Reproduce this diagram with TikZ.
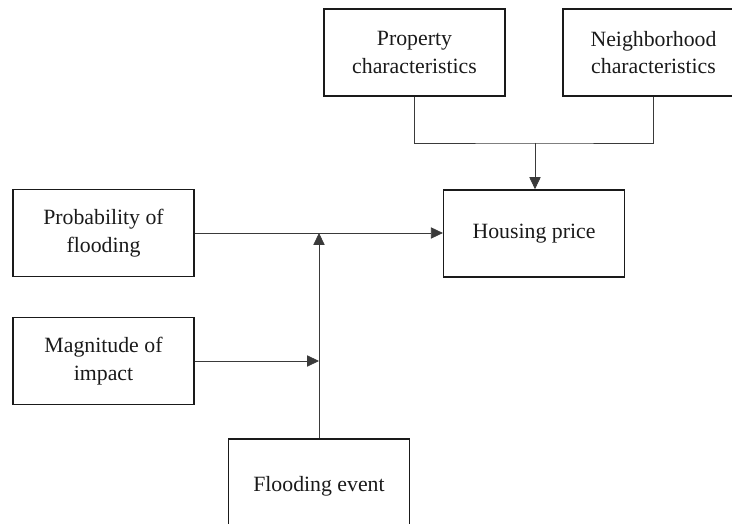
\documentclass[tikz,border=0pt]{standalone}
\usepackage{fontspec}
\setmainfont{Liberation Serif}
\usepackage{xcolor}
\definecolor{fink}{HTML}{1A1A1A}
\definecolor{fline}{HTML}{3A3A3A}
\usepackage{tikz}
\usetikzlibrary{arrows.meta,positioning,calc}
\begin{document}
\begin{tikzpicture}[x=0.025cm,y=-0.025cm,
  box/.style={rectangle,draw=fink,line width=1pt,align=center,
              minimum width=4.52cm,minimum height=2.18cm,inner sep=2pt,
              font=\fontsize{15.5}{19.5}\selectfont,text=fink},
  link/.style={-{Triangle[length=8.5pt,width=8pt]},line width=0.55pt,fline}]
\clip (0,0) rectangle (732,524);
\node[box] (prop) at (414.5,52.5) {Property\\characteristics};
\node[box] (neigh) at (653.5,52.5) {Neighborhood\\characteristics};
\node[box] (house) at (534,233.5) {Housing price};
\node[box] (prob) at (103.5,233) {Probability of\\flooding};
\node[box] (magn) at (103.5,361) {Magnitude of\\impact};
\node[box,minimum height=2.35cm] (flood) at (319,486) {Flooding event};
\coordinate (join) at (535,143);
\draw[line width=0.55pt,fline] (prop.south) |- (join) -| (neigh.south);
\draw[link] (join) -- (house.north -| join);
\draw[link] (prob.east) -- (prob.east -| house.west);
\draw[link] (flood.north) -- (flood.north |- prob.east);
\draw[link] (magn.east) -- (magn.east -| flood.north);
\end{tikzpicture}
\end{document}
